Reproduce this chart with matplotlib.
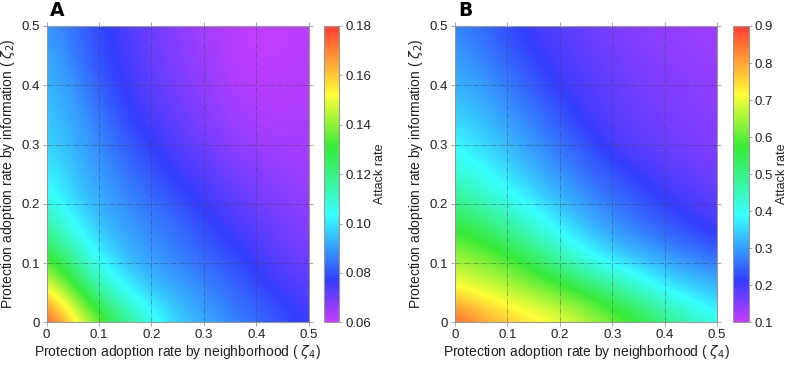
import numpy as np
import matplotlib
matplotlib.use('Agg')
import matplotlib.pyplot as plt
from matplotlib.colors import LinearSegmentedColormap
from matplotlib.ticker import FormatStrFormatter

# adoption rates on both axes
zeta4 = [0.0, 0.05, 0.1, 0.15, 0.2, 0.25, 0.3, 0.35, 0.4, 0.45, 0.5]
zeta2 = [0.0, 0.05, 0.1, 0.15, 0.2, 0.25, 0.3, 0.35, 0.4, 0.45, 0.5]

# attack rate, rows = zeta2 (0 -> 0.5), cols = zeta4 (0 -> 0.5)
attack_A = [
    [0.180, 0.158, 0.138, 0.120, 0.107, 0.097, 0.092, 0.088, 0.084, 0.0795, 0.076],
    [0.157, 0.137, 0.116, 0.104, 0.096, 0.092, 0.088, 0.083, 0.0795, 0.076, 0.073],
    [0.136, 0.118, 0.103, 0.095, 0.090, 0.087, 0.083, 0.080, 0.076, 0.072, 0.070],
    [0.120, 0.106, 0.096, 0.091, 0.087, 0.084, 0.0795, 0.076, 0.073, 0.070, 0.068],
    [0.108, 0.098, 0.092, 0.088, 0.084, 0.0797, 0.076, 0.073, 0.070, 0.068, 0.066],
    [0.102, 0.095, 0.090, 0.085, 0.080, 0.076, 0.073, 0.070, 0.068, 0.066, 0.065],
    [0.098, 0.093, 0.087, 0.0815, 0.077, 0.073, 0.070, 0.067, 0.065, 0.064, 0.064],
    [0.096, 0.091, 0.085, 0.078, 0.074, 0.071, 0.068, 0.065, 0.063, 0.063, 0.063],
    [0.094, 0.089, 0.0815, 0.076, 0.072, 0.069, 0.066, 0.063, 0.062, 0.062, 0.063],
    [0.092, 0.086, 0.079, 0.075, 0.071, 0.068, 0.065, 0.062, 0.061, 0.0615, 0.062],
    [0.090, 0.084, 0.0785, 0.074, 0.070, 0.067, 0.064, 0.062, 0.061, 0.061, 0.062],
]

attack_B = [
    [0.88, 0.82, 0.775, 0.74, 0.71, 0.67, 0.625, 0.58, 0.52, 0.46, 0.41],
    [0.735, 0.705, 0.675, 0.645, 0.615, 0.57, 0.51, 0.45, 0.39, 0.36, 0.33],
    [0.655, 0.63, 0.60, 0.55, 0.48, 0.415, 0.37, 0.34, 0.315, 0.29, 0.27],
    [0.585, 0.55, 0.50, 0.44, 0.385, 0.34, 0.305, 0.275, 0.25, 0.225, 0.205],
    [0.50, 0.46, 0.415, 0.37, 0.33, 0.295, 0.265, 0.24, 0.215, 0.198, 0.18],
    [0.43, 0.395, 0.36, 0.325, 0.29, 0.26, 0.235, 0.207, 0.19, 0.175, 0.165],
    [0.385, 0.355, 0.325, 0.295, 0.26, 0.23, 0.195, 0.18, 0.17, 0.162, 0.155],
    [0.35, 0.325, 0.295, 0.265, 0.235, 0.20, 0.185, 0.172, 0.163, 0.155, 0.148],
    [0.32, 0.30, 0.27, 0.24, 0.205, 0.19, 0.175, 0.165, 0.157, 0.149, 0.142],
    [0.30, 0.275, 0.245, 0.215, 0.195, 0.18, 0.167, 0.157, 0.149, 0.142, 0.136],
    [0.28, 0.255, 0.225, 0.20, 0.185, 0.17, 0.158, 0.149, 0.141, 0.135, 0.13],
]

ticks = [0, 0.1, 0.2, 0.3, 0.4, 0.5]
cbar_ticks_A = [0.06, 0.08, 0.10, 0.12, 0.14, 0.16, 0.18]
cbar_ticks_B = [0.1, 0.2, 0.3, 0.4, 0.5, 0.6, 0.7, 0.8, 0.9]

plt.rcParams['font.family'] = ['Liberation Sans', 'DejaVu Sans']
plt.rcParams['mathtext.fontset'] = 'dejavusans'

cmap = LinearSegmentedColormap.from_list('attack', [
    (0.00, (0.78, 0.24, 1.00)),
    (0.14, (0.20, 0.24, 1.00)),
    (0.36, (0.22, 1.00, 1.00)),
    (0.59, (0.22, 0.92, 0.22)),
    (0.77, (1.00, 1.00, 0.22)),
    (1.00, (1.00, 0.24, 0.20)),
])

fig = plt.figure(figsize=(7.87, 3.66), dpi=100)

panels = [
    ('A', attack_A, 0.06, 0.18, cbar_ticks_A, '%.2f', 0.0593, 0.4117),
    ('B', attack_B, 0.1, 0.9, cbar_ticks_B, '%.1f', 0.5781, 0.9318),
]

for letter, data, vmin, vmax, cticks, cfmt, ax_left, cb_left in panels:
    ax = fig.add_axes([ax_left, 0.1194, 0.3330, 0.8096])
    cax = fig.add_axes([cb_left, 0.1194, 0.0194, 0.8096])

    z = np.array(data)
    dx = zeta4[1] - zeta4[0]
    dy = zeta2[1] - zeta2[0]
    im = ax.imshow(z, origin='lower', cmap=cmap, vmin=vmin, vmax=vmax,
                   extent=(zeta4[0] - dx / 2, zeta4[-1] + dx / 2,
                           zeta2[0] - dy / 2, zeta2[-1] + dy / 2),
                   interpolation='bicubic', interpolation_stage='data',
                   aspect='auto')
    ax.set_xlim(0, 0.5)
    ax.set_ylim(0, 0.5)
    ax.set_xticks(ticks)
    ax.set_yticks(ticks)
    ax.xaxis.set_major_formatter(FormatStrFormatter('%g'))
    ax.yaxis.set_major_formatter(FormatStrFormatter('%g'))
    ax.grid(True, linestyle='-.', color='#444444', linewidth=0.6, alpha=0.5)
    ax.tick_params(direction='out', length=3, width=0.6, color='#999999',
                   labelsize=9.5, labelcolor='#222222', top=True, right=True,
                   pad=2)
    for sp in ax.spines.values():
        sp.set_color('#999999')
        sp.set_linewidth(0.8)

    ax.set_xlabel(r'Protection adoption rate by neighborhood ( $\zeta_4$)',
                  fontsize=10, color='#222222', labelpad=1)
    ax.set_ylabel(r'Protection adoption rate by information ( $\zeta_2$)',
                  fontsize=10, color='#222222', labelpad=3)
    ax.text(0.012, 1.02, letter, transform=ax.transAxes, fontsize=13.5,
            fontweight='bold', family='DejaVu Sans', ha='left', va='bottom')

    cb = fig.colorbar(im, cax=cax, ticks=cticks)
    cb.ax.yaxis.set_major_formatter(FormatStrFormatter(cfmt))
    cb.ax.tick_params(direction='out', length=2.5, width=0.6, color='#999999',
                      labelsize=9.5, labelcolor='#222222', pad=2)
    cb.outline.set_edgecolor('#999999')
    cb.outline.set_linewidth(0.8)
    cb.set_label('Attack rate', fontsize=9, color='#222222', labelpad=2)

fig.savefig('out.png', dpi=100)
